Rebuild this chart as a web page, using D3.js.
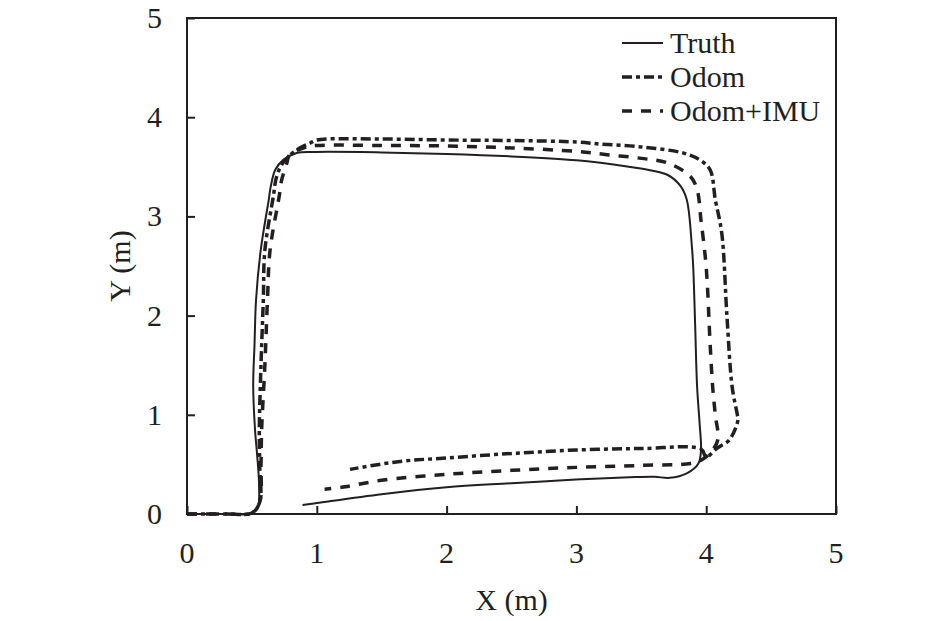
<!DOCTYPE html>
<html>
<head>
<meta charset="utf-8">
<script src="https://cdn.jsdelivr.net/npm/d3@7"></script>
<style>
  body { margin: 0; background: #fff; }
  text { font-family: "Liberation Serif", "Times New Roman", serif; fill: #231f20; }
</style>
</head>
<body>
<div id="chart"></div>
<script>
const xTicks = [0, 1, 2, 3, 4, 5];
const yTicks = [0, 1, 2, 3, 4, 5];
const seriesNames = ["Truth", "Odom", "Odom+IMU"];

// trajectories as [x, y] in metres
const truthPts = [
  [0, 0], [0.3, 0.0], [0.5, 0.005], [0.545, 0.06], [0.555, 0.3], [0.54, 0.6], [0.524, 0.85],
  [0.51, 1.3], [0.52, 1.7], [0.532, 2.16], [0.568, 2.66], [0.63, 3.17], [0.645, 3.3],
  [0.68, 3.47], [0.742, 3.57], [0.845, 3.64], [1.0, 3.65], [1.5, 3.645], [2.0, 3.63],
  [2.5, 3.605], [3.0, 3.565], [3.3, 3.52], [3.55, 3.47], [3.7, 3.42], [3.8, 3.31],
  [3.85, 3.17], [3.89, 2.69], [3.9, 2.49], [3.915, 1.9], [3.93, 1.28], [3.95, 0.9],
  [3.96, 0.645], [3.94, 0.51], [3.85, 0.41], [3.72, 0.365], [3.6, 0.375], [3.41, 0.37],
  [3.03, 0.35], [2.5, 0.31], [2.0, 0.27], [1.5, 0.2], [1.0, 0.11], [0.89, 0.09]
];
const odomPts = [
  [0, 0], [0.3, 0.0], [0.5, 0.01], [0.56, 0.12], [0.56, 0.5], [0.557, 0.85], [0.57, 1.5],
  [0.588, 2.16], [0.6, 2.66], [0.665, 3.2], [0.69, 3.4], [0.74, 3.54], [0.845, 3.67],
  [0.95, 3.74], [1.0, 3.77], [1.5, 3.78], [2.0, 3.77], [2.5, 3.765], [3.0, 3.75],
  [3.18, 3.73], [3.5, 3.7], [3.82, 3.64], [3.95, 3.57], [4.03, 3.47], [4.07, 3.17],
  [4.12, 2.83], [4.16, 1.99], [4.2, 1.28], [4.24, 1.0], [4.245, 0.95], [4.18, 0.75],
  [4.08, 0.66], [4.0, 0.575], [3.96, 0.655], [3.5, 0.66], [3.0, 0.645], [2.5, 0.61],
  [2.0, 0.565], [1.64, 0.53], [1.256, 0.45]
];
const fusedPts = [
  [0, 0], [0.3, 0.0], [0.5, 0.01], [0.56, 0.12], [0.57, 0.5], [0.575, 0.85], [0.6, 1.5],
  [0.62, 2.16], [0.64, 2.66], [0.71, 3.2], [0.73, 3.37], [0.77, 3.54], [0.79, 3.62],
  [0.92, 3.7], [1.0, 3.715], [1.5, 3.715], [2.0, 3.71], [2.5, 3.69], [3.0, 3.655],
  [3.25, 3.62], [3.5, 3.585], [3.7, 3.54], [3.88, 3.4], [3.93, 3.27], [3.96, 2.96],
  [4.0, 2.49], [4.03, 1.72], [4.05, 1.28], [4.07, 1.0], [4.09, 0.75], [4.04, 0.63],
  [3.97, 0.55], [3.88, 0.51], [3.5, 0.49], [3.0, 0.47], [2.5, 0.44], [2.0, 0.4],
  [1.5, 0.34], [1.22, 0.275], [1.06, 0.25]
];

const lineStyles = [
  { width: 2, dash: null },
  { width: 3.5, dash: "10,4,4,4" },
  { width: 3.5, dash: "10,9" }
];

const W = 945, H = 621;
const margin = { top: 18, right: 109, bottom: 107, left: 187 };
const width = W - margin.left - margin.right;
const height = H - margin.top - margin.bottom;
const ink = "#231f20";

const svg = d3.select("#chart")
  .append("svg")
  .attr("width", W)
  .attr("height", H)
  .append("g")
  .attr("transform", `translate(${margin.left},${margin.top})`);

const x = d3.scaleLinear().domain([0, 5]).range([0, width]);
const y = d3.scaleLinear().domain([0, 5]).range([height, 0]);

// frame
svg.append("rect")
  .attr("width", width)
  .attr("height", height)
  .attr("fill", "none")
  .attr("stroke", ink)
  .attr("stroke-width", 2);

// ticks point inward, labels drawn separately
const xAxis = svg.append("g")
  .attr("transform", `translate(0,${height})`)
  .call(d3.axisBottom(x).tickValues(xTicks).tickSize(-8).tickFormat(""));
const yAxis = svg.append("g")
  .call(d3.axisLeft(y).tickValues(yTicks).tickSize(-8).tickFormat(""));
[xAxis, yAxis].forEach(a => {
  a.select(".domain").remove();
  a.selectAll("line").attr("stroke", ink).attr("stroke-width", 2);
});

svg.selectAll(".xlab")
  .data(xTicks)
  .enter()
  .append("text")
  .attr("x", d => x(d))
  .attr("y", height + 49)
  .attr("text-anchor", "middle")
  .style("font-size", "30px")
  .text(d => d);

svg.selectAll(".ylab")
  .data(yTicks)
  .enter()
  .append("text")
  .attr("x", -25)
  .attr("y", d => y(d) + 10)
  .attr("text-anchor", "end")
  .style("font-size", "30px")
  .text(d => d);

svg.append("text")
  .attr("x", width / 2)
  .attr("y", height + 96)
  .attr("text-anchor", "middle")
  .style("font-size", "30px")
  .text("X (m)");

svg.append("text")
  .attr("transform", "rotate(-90)")
  .attr("x", -height / 2)
  .attr("y", -57)
  .attr("text-anchor", "middle")
  .style("font-size", "30px")
  .text("Y (m)");

const line = d3.line()
  .x(d => x(d[0]))
  .y(d => y(d[1]))
  .curve(d3.curveCatmullRom.alpha(0.5));

[truthPts, odomPts, fusedPts].forEach((pts, i) => {
  svg.append("path")
    .datum(pts)
    .attr("d", line)
    .attr("fill", "none")
    .attr("stroke", ink)
    .attr("stroke-width", lineStyles[i].width)
    .attr("stroke-dasharray", lineStyles[i].dash);
});

// Legend
const legend = svg.append("g")
  .attr("transform", `translate(${622 - margin.left}, ${43 - margin.top})`);

seriesNames.forEach((name, i) => {
  const row = legend.append("g").attr("transform", `translate(0, ${i * 34})`);
  row.append("line")
    .attr("x1", 0)
    .attr("x2", 41)
    .attr("stroke", ink)
    .attr("stroke-width", lineStyles[i].width)
    .attr("stroke-dasharray", lineStyles[i].dash);
  row.append("text")
    .attr("x", 48)
    .attr("y", 10)
    .style("font-size", "30px")
    .text(name);
});
</script>
</body>
</html>
